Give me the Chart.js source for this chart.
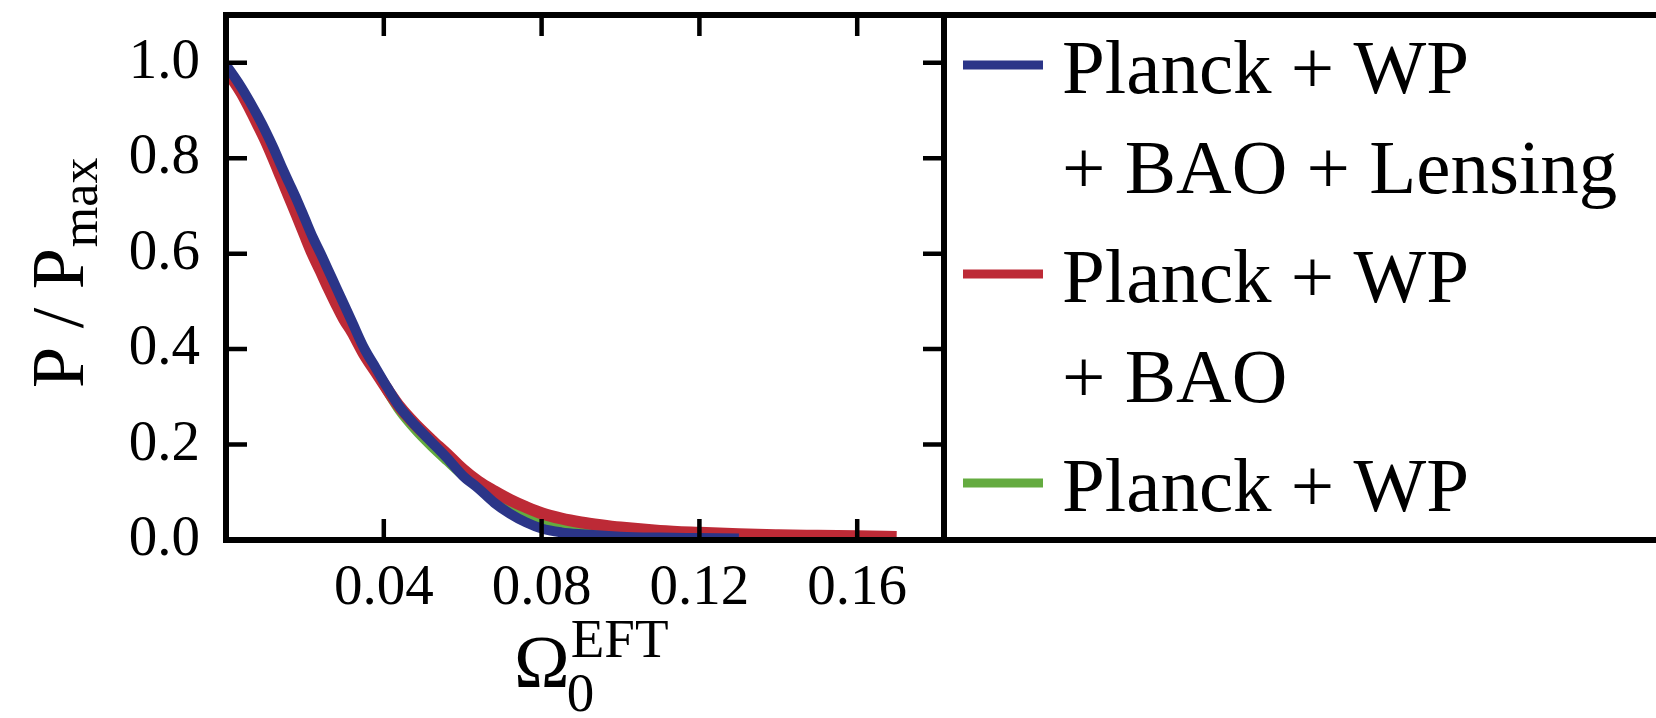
<!DOCTYPE html>
<html><head><meta charset="utf-8">
<script src="https://cdn.jsdelivr.net/npm/chart.js@4.4.1/dist/chart.umd.min.js"></script>
<style>html,body{margin:0;padding:0;background:#fff;overflow:hidden}canvas{display:block}</style>
</head><body>
<canvas id="c" width="1656" height="718"></canvas>
<script>
// ---- data ----
const xTicks = [0.04, 0.08, 0.12, 0.16];
const yTicks = [0.0, 0.2, 0.4, 0.6, 0.8, 1.0];

const blueX = [0, 0.002, 0.004, 0.006, 0.008, 0.010, 0.012, 0.014, 0.016, 0.018, 0.020, 0.022, 0.024, 0.026, 0.028, 0.030, 0.032, 0.035, 0.038, 0.041, 0.044, 0.048, 0.052, 0.056, 0.060, 0.064, 0.068, 0.072, 0.076, 0.080, 0.085, 0.090, 0.100, 0.110, 0.120, 0.130];
const blueY = [0.995, 0.972, 0.947, 0.919, 0.889, 0.857, 0.822, 0.784, 0.748, 0.712, 0.673, 0.634, 0.600, 0.564, 0.528, 0.492, 0.456, 0.402, 0.360, 0.318, 0.279, 0.240, 0.206, 0.172, 0.135, 0.108, 0.078, 0.055, 0.037, 0.024, 0.016, 0.012, 0.007, 0.005, 0.004, 0.003];

const redX = [0, 0.002, 0.004, 0.006, 0.008, 0.010, 0.012, 0.014, 0.016, 0.018, 0.020, 0.022, 0.024, 0.026, 0.028, 0.030, 0.032, 0.035, 0.038, 0.041, 0.044, 0.048, 0.052, 0.056, 0.060, 0.064, 0.068, 0.072, 0.076, 0.080, 0.085, 0.090, 0.095, 0.100, 0.110, 0.120, 0.130, 0.140, 0.150, 0.160, 0.170];
const redY = [0.985, 0.962, 0.936, 0.905, 0.872, 0.838, 0.800, 0.760, 0.720, 0.680, 0.639, 0.599, 0.564, 0.528, 0.494, 0.462, 0.436, 0.390, 0.352, 0.314, 0.279, 0.242, 0.210, 0.180, 0.148, 0.122, 0.102, 0.084, 0.069, 0.056, 0.045, 0.037, 0.031, 0.026, 0.019, 0.015, 0.0118, 0.010, 0.0088, 0.0077, 0.0065];

const greenX = [0, 0.002, 0.004, 0.006, 0.008, 0.010, 0.012, 0.014, 0.016, 0.018, 0.020, 0.022, 0.024, 0.026, 0.028, 0.030, 0.032, 0.035, 0.038, 0.041, 0.044, 0.048, 0.052, 0.056, 0.060, 0.064, 0.068, 0.072, 0.076, 0.080, 0.085, 0.090, 0.100, 0.110, 0.120, 0.130, 0.140, 0.150];
const greenY = [0.99, 0.967, 0.941, 0.912, 0.881, 0.848, 0.811, 0.772, 0.734, 0.696, 0.656, 0.617, 0.582, 0.546, 0.511, 0.477, 0.446, 0.396, 0.352, 0.309, 0.270, 0.230, 0.196, 0.165, 0.135, 0.110, 0.086, 0.066, 0.050, 0.038, 0.028, 0.021, 0.013, 0.009, 0.007, 0.005, 0.004, 0.003];

const seriesLabels = [["Planck + WP", "+ BAO + Lensing"], ["Planck + WP", "+ BAO"], ["Planck + WP"]];
const legendBaselines = [93, 192.5, 302, 401.5, 511];
const seriesColors = ["#2b3588", "#bd2a36", "#64ab40"];

const SERIF = '"Liberation Serif", "Times New Roman", serif';

function pts(xs, ys) { return xs.map((x, i) => ({ x: x, y: ys[i] })); }

const framePlugin = {
  id: 'frame',
  afterDatasetsDraw(chart) {
    const ctx = chart.ctx, a = chart.chartArea, xs = chart.scales.x, ys = chart.scales.y;
    ctx.save();
    ctx.strokeStyle = '#000';
    ctx.lineCap = 'butt';
    // inward ticks
    ctx.lineWidth = 4.5;
    ctx.beginPath();
    xs.ticks.forEach(t => {
      const p = xs.getPixelForValue(t.value);
      ctx.moveTo(p, a.bottom); ctx.lineTo(p, a.bottom - 21);
      ctx.moveTo(p, a.top); ctx.lineTo(p, a.top + 21);
    });
    ys.ticks.forEach(t => {
      const p = ys.getPixelForValue(t.value);
      ctx.moveTo(a.left, p); ctx.lineTo(a.left + 21, p);
      ctx.moveTo(a.right, p); ctx.lineTo(a.right - 21, p);
    });
    ctx.stroke();
    // spines + legend frame
    ctx.lineWidth = 6;
    ctx.lineJoin = 'miter';
    ctx.strokeRect(a.left, a.top, a.right - a.left, a.bottom - a.top);
    ctx.beginPath();
    ctx.moveTo(a.right, a.top); ctx.lineTo(chart.width + 10, a.top);
    ctx.moveTo(a.right, a.bottom); ctx.lineTo(chart.width + 10, a.bottom);
    ctx.stroke();
    ctx.restore();
  },
  afterDraw(chart) {
    const ctx = chart.ctx, a = chart.chartArea;
    ctx.save();
    ctx.fillStyle = '#000';
    ctx.textBaseline = 'alphabetic';
    ctx.textAlign = 'left';
    // legend
    const fs = 77;
    let line = 0;
    chart.data.datasets.forEach((ds, i) => {
      seriesLabels[i].forEach((txt, j) => {
        const base = legendBaselines[line];
        if (j === 0) {
          ctx.strokeStyle = ds.borderColor;
          ctx.lineWidth = 9;
          ctx.beginPath();
          ctx.moveTo(a.right + 19, base - 28); ctx.lineTo(a.right + 99, base - 28);
          ctx.stroke();
        }
        ctx.font = fs + 'px ' + SERIF;
        ctx.fillText(txt, a.right + 118, base);
        line++;
      });
    });
    // y axis title: P / P_max
    ctx.save();
    ctx.translate(83, 388);
    ctx.rotate(-Math.PI / 2);
    ctx.font = '74px ' + SERIF;
    ctx.fillText('P / P', 0, 0);
    const w = ctx.measureText('P / P').width;
    ctx.font = '52px ' + SERIF;
    ctx.fillText('max', w + 1, 14);
    ctx.restore();
    // x axis title: Omega_0^EFT
    ctx.font = '75px ' + SERIF;
    const ox = 514, oy = 687;
    ctx.fillText('\u03A9', ox, oy);
    const ow = ctx.measureText('\u03A9').width;
    ctx.font = '55px ' + SERIF;
    ctx.fillText('EFT', ox + ow + 1, oy - 30);
    ctx.fillText('0', ox + ow - 3, oy + 24);
    ctx.restore();
  }
};

function makeChart() {
  new Chart(document.getElementById('c'), {
    type: 'line',
    data: {
      datasets: [
        { label: seriesLabels[0].join(' '), data: pts(blueX, blueY), borderColor: seriesColors[0], borderWidth: 10 },
        { label: seriesLabels[1].join(' '), data: pts(redX, redY), borderColor: seriesColors[1], borderWidth: 12 },
        { label: seriesLabels[2].join(' '), data: pts(greenX, greenY), borderColor: seriesColors[2], borderWidth: 9 }
      ]
    },
    options: {
      responsive: false,
      animation: false,
      devicePixelRatio: 1,
      layout: { padding: { top: 15, right: 712, left: 0, bottom: 0 } },
      elements: { point: { radius: 0 }, line: { cubicInterpolationMode: 'monotone', fill: false, borderCapStyle: 'butt' } },
      datasets: { line: { clip: 0 } },
      plugins: { legend: { display: false }, tooltip: { enabled: false } },
      scales: {
        x: {
          type: 'linear', min: 0, max: 0.182,
          afterBuildTicks: s => { s.ticks = xTicks.map(v => ({ value: v })); },
          afterFit: s => { s.height = 178; s.paddingLeft = 0; s.paddingRight = 0; },
          grid: { display: false, drawTicks: false },
          border: { display: false },
          ticks: { callback: v => Number(v).toFixed(2), color: '#000', font: { family: SERIF, size: 57 }, padding: 15, maxRotation: 0, autoSkip: false }
        },
        y: {
          type: 'linear', min: 0, max: 1.1,
          afterBuildTicks: s => { s.ticks = yTicks.map(v => ({ value: v })); },
          afterFit: s => { s.width = 226; s.paddingTop = 0; s.paddingBottom = 0; },
          grid: { display: false, drawTicks: false },
          border: { display: false },
          ticks: { callback: v => Number(v).toFixed(1), color: '#000', font: { family: SERIF, size: 57 }, padding: 26, autoSkip: false }
        }
      }
    },
    plugins: [framePlugin]
  });
}
if (document.fonts && document.fonts.load) {
  Promise.all([document.fonts.load('77px "Liberation Serif"')]).then(makeChart, makeChart);
} else { makeChart(); }
</script>
</body></html>
